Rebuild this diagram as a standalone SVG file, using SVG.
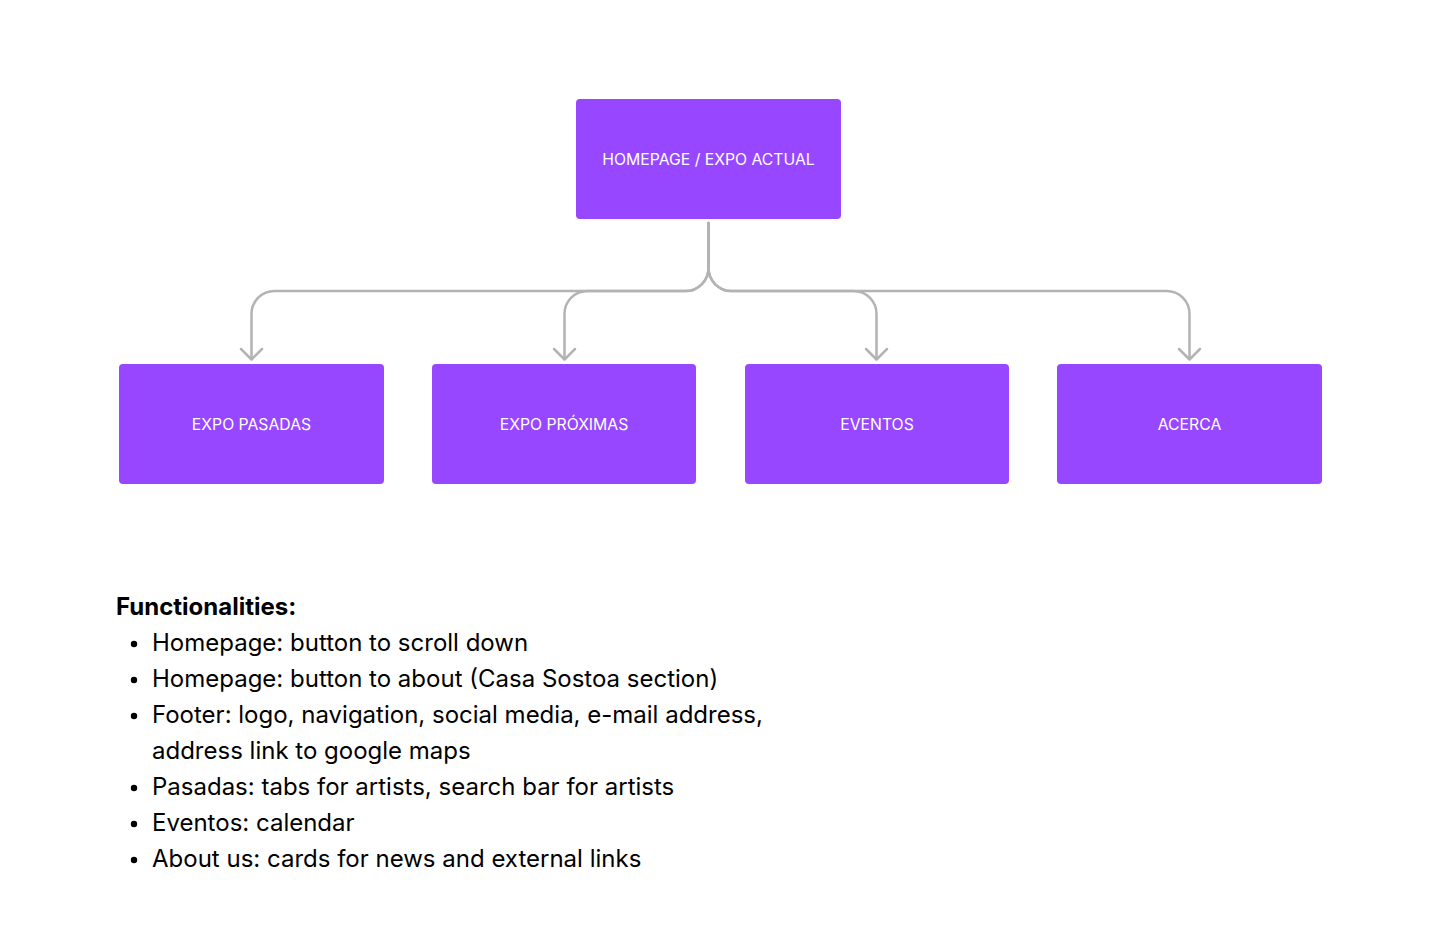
<svg xmlns="http://www.w3.org/2000/svg" width="1440" height="950" viewBox="0 0 1440 950">
<style>
.box{fill:#9747FF}
.lbl{font-family:Inter,"Liberation Sans",sans-serif;font-size:15.75px;fill:#FFFFFF;text-anchor:middle;dominant-baseline:central}
.conn{fill:none;stroke:#B3B3B3;stroke-width:2.5;stroke-linecap:round;stroke-linejoin:round}
.body{font-family:Inter,"Liberation Sans",sans-serif;font-size:24px;fill:#000000}
</style>
<rect width="1440" height="950" fill="#FFFFFF"/>
<g id="connectors">
<path class="conn" d="M708.5 223 V268 A23 23 0 0 1 685.5 291 H274.5 A23 23 0 0 0 251.5 314 V359"/>
<path class="conn" d="M241 349 L251.5 359.5 L262 349"/>
<path class="conn" d="M708.5 223 V268 A23 23 0 0 1 685.5 291 H587.5 A23 23 0 0 0 564.5 314 V359"/>
<path class="conn" d="M554 349 L564.5 359.5 L575 349"/>
<path class="conn" d="M708.5 223 V268 A23 23 0 0 0 731.5 291 H853.5 A23 23 0 0 1 876.5 314 V359"/>
<path class="conn" d="M866 349 L876.5 359.5 L887 349"/>
<path class="conn" d="M708.5 223 V268 A23 23 0 0 0 731.5 291 H1166.5 A23 23 0 0 1 1189.5 314 V359"/>
<path class="conn" d="M1179 349 L1189.5 359.5 L1200 349"/>
</g>
<g id="node-home">
<rect class="box" x="576" y="99" width="265" height="120" rx="4"/>
<text class="lbl" x="708.5" y="159">HOMEPAGE / EXPO ACTUAL</text>
</g>
<g id="node-pasadas">
<rect class="box" x="119" y="364" width="265" height="120" rx="4"/>
<text class="lbl" x="251.5" y="424">EXPO PASADAS</text>
</g>
<g id="node-proximas">
<rect class="box" x="432" y="364" width="264" height="120" rx="4"/>
<text class="lbl" x="564" y="424">EXPO PRÓXIMAS</text>
</g>
<g id="node-eventos">
<rect class="box" x="745" y="364" width="264" height="120" rx="4"/>
<text class="lbl" x="877" y="424">EVENTOS</text>
</g>
<g id="node-acerca">
<rect class="box" x="1057" y="364" width="265" height="120" rx="4"/>
<text class="lbl" x="1189.5" y="424">ACERCA</text>
</g>
<g id="notes">
<text class="body" x="116" y="615" font-weight="700">Functionalities:</text>
<g>
<circle cx="134" cy="644" r="3.2" fill="#000"/>
<text class="body" x="152" y="651">Homepage: button to scroll down</text>
<circle cx="134" cy="680" r="3.2" fill="#000"/>
<text class="body" x="152" y="687">Homepage: button to about (Casa Sostoa section)</text>
<circle cx="134" cy="716" r="3.2" fill="#000"/>
<text class="body" x="152" y="723">Footer: logo, navigation, social media, e-mail address,</text>
<text class="body" x="152" y="759">address link to google maps</text>
<circle cx="134" cy="788" r="3.2" fill="#000"/>
<text class="body" x="152" y="795">Pasadas: tabs for artists, search bar for artists</text>
<circle cx="134" cy="824" r="3.2" fill="#000"/>
<text class="body" x="152" y="831">Eventos: calendar</text>
<circle cx="134" cy="860" r="3.2" fill="#000"/>
<text class="body" x="152" y="867">About us: cards for news and external links</text>
</g>
</g>
</svg>
